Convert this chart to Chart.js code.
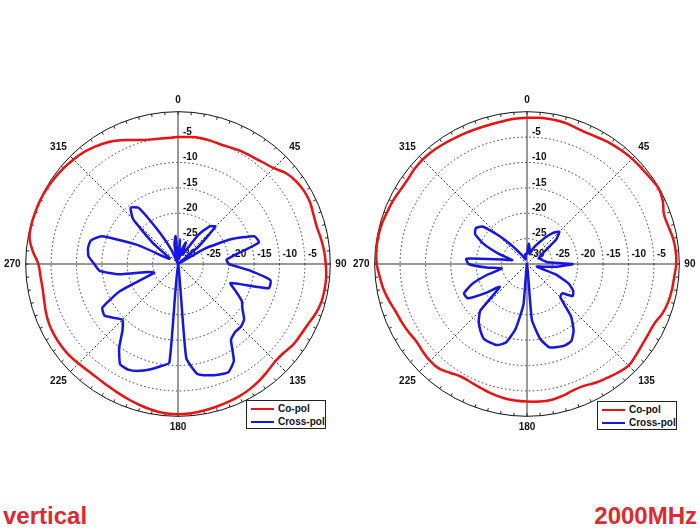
<!DOCTYPE html>
<html>
<head>
<meta charset="utf-8">
<script src="https://cdn.jsdelivr.net/npm/chart.js@4.4.1/dist/chart.umd.min.js"></script>
<style>
    body { margin: 0; background: #fff; font-family: "Liberation Sans", Arial, sans-serif; }
    .page { position: relative; width: 700px; height: 530px; overflow: hidden; }
    .plot { position: absolute; top: 90px; width: 348px; height: 348px; }
    .legend { position: absolute; width: 78px; height: 27px; border: 1px solid #222; background: #fff;
              font-weight: bold; font-size: 10px; color: #111; }
    .legend div { height: 11px; line-height: 11px; margin-top: 2px; white-space: nowrap; }
    .legend span.line { display: inline-block; width: 23px; height: 2px; margin: 0 4px 0 4px; vertical-align: middle; }
    .caption { position: absolute; top: 502px; font-weight: bold; font-size: 24px; color: #de2a2f; }
</style>
</head>
<body>
<div class="page">
    <div class="plot" style="left:2px"><canvas id="leftChart" width="348" height="348"></canvas></div>
    <div class="plot" style="left:351px"><canvas id="rightChart" width="348" height="348"></canvas></div>
    <div class="legend" id="leftLegend" style="left:246px; top:400px"></div>
    <div class="legend" id="rightLegend" style="left:597px; top:401px"></div>
    <div class="caption" style="left:3px">vertical</div>
    <div class="caption" style="right:3px">2000MHz</div>
</div>
<script>
// angles in degrees, 0 at top, clockwise
const degrees = ['0','5','10','15','20','25','30','35','40','45','50','55','60','65','70','75','80','85',
    '90','95','100','105','110','115','120','125','130','135','140','145','150','155','160','165','170','175',
    '180','185','190','195','200','205','210','215','220','225','230','235','240','245','250','255','260','265',
    '270','275','280','285','290','295','300','305','310','315','320','325','330','335','340','345','350','355'];
const ringLabels = [-30, -25, -20, -15, -10, -5];

// left plot (dB)
const leftCoPol = [-5.0,-4.9,-4.8,-4.9,-5.0,-4.8,-4.5,-4.3,-3.9,-3.3,-2.2,-1.6,-1.3,-1.3,-1.6,-1.7,-1.4,-1.1,
    -0.9,-0.7,-0.7,-0.8,-1.2,-1.8,-2.1,-2.3,-2.8,-2.9,-2.5,-2.0,-1.6,-1.3,-1.1,-0.9,-0.7,-0.5,
    -0.4,-0.5,-0.8,-1.2,-1.6,-2.0,-2.3,-2.5,-2.5,-2.3,-2.0,-1.9,-1.9,-2.0,-2.3,-2.7,-2.9,-2.8,
    -2.5,-1.3,-0.3,-0.1,-0.1,-0.1,-0.2,-0.4,-0.6,-0.9,-1.2,-1.7,-2.3,-3.1,-4.0,-4.7,-5.0,-5.1];
const leftCrossPol = [-29,-25.2,-29,-27,-25.5,-28,-27,-23,-20.3,-19.6,-25,-30,-24,-18.5,-14,-13.5,-18,-20.4,
    -20,-16,-11.5,-11.5,-19,-17.5,-15.5,-14.5,-13,-12.5,-12.5,-11.8,-8,-6.5,-6.8,-7.3,-8,-11.4,
    -30,-10.5,-9.5,-8.5,-7.6,-7,-7.2,-9.8,-13,-14.5,-13.5,-12.3,-12.8,-17.4,-25,-24,-18.3,-14.5,
    -13.5,-12.3,-12,-12.2,-14,-21,-28,-28,-23.5,-17.5,-15.5,-16.5,-23,-27,-30,-29,-26,-24.5];

// right plot (dB)
const rightCoPol = [-1.2,-1.1,-1.1,-1.2,-1.5,-1.6,-1.4,-1.1,-0.9,-0.7,-0.6,-0.4,-0.1,-0.5,-1.3,-1.2,-0.8,-0.6,
    -0.6,-0.9,-1.0,-1.2,-1.6,-2.3,-2.4,-2.3,-2.0,-1.7,-2.1,-2.6,-3.0,-3.5,-3.5,-3.1,-2.8,-2.8,
    -2.9,-3.0,-3.2,-3.5,-3.9,-4.2,-4.3,-3.8,-3.1,-3.0,-3.2,-3.4,-3.1,-2.8,-2.5,-1.9,-1.3,-0.9,
    -0.4,-0.2,-0.2,-0.3,-0.6,-0.8,-1.1,-1.2,-1.0,-0.9,-1.0,-1.2,-1.4,-1.5,-1.6,-1.6,-1.5,-1.3];
const rightCrossPol = [-28,-26,-27,-28,-27,-26,-25,-23.5,-22,-21,-22.5,-26,-27,-27.5,-27,-27,-26.5,-26,
    -21,-24,-27,-28,-24,-21,-19.5,-19,-21,-20.7,-16.5,-14,-12.5,-12.3,-12.6,-13,-15,-19,
    -30,-22,-17,-14,-13,-12.9,-13,-14,-15.2,-17,-23,-20,-16.5,-16.3,-18.5,-22,-25,-22,
    -18.5,-18,-25,-27,-24,-20.5,-18.2,-17.7,-18.5,-22,-25,-27,-28,-28.5,-29,-29,-28,-28];

const tickFont = 'bold 10px "Liberation Sans", Arial, sans-serif';

// ring values + 5 degree marks on the outer circle
const polarExtras = {
    id: 'polarExtras',
    beforeDatasetsDraw(chart) {
        const r = chart.scales.r;
        const ctx = chart.ctx;
        ctx.save();
        ctx.strokeStyle = '#222';
        ctx.lineWidth = 1;
        for (let i = 0; i < chart.data.labels.length; i++) {
            const a = r.getPointPosition(i, r.drawingArea);
            const b = r.getPointPosition(i, r.drawingArea - 3);
            ctx.beginPath();
            ctx.moveTo(a.x, a.y);
            ctx.lineTo(b.x, b.y);
            ctx.stroke();
        }
        ctx.font = tickFont;
        ctx.fillStyle = '#111';
        ctx.textAlign = 'left';
        ctx.textBaseline = 'middle';
        ringLabels.forEach(v => {
            const d = r.getDistanceFromCenterForValue(v);
            if (v > -30) ctx.fillText(String(v), r.xCenter + 5, r.yCenter - d - 5);
            ctx.fillText(String(v), r.xCenter + d + 3, r.yCenter - 10);
        });
        ctx.restore();
    }
};

function makePolar(id, coPol, crossPol) {
    const ctx = document.getElementById(id).getContext('2d');
    return new Chart(ctx, {
        type: 'radar',
        data: {
            labels: degrees,
            datasets: [{
                label: 'Co-pol',
                data: coPol,
                borderColor: '#ee1111',
                borderWidth: 2.5,
                fill: false,
                tension: 0.4,
                pointRadius: 0
            }, {
                label: 'Cross-pol',
                data: crossPol,
                borderColor: '#1515e6',
                borderWidth: 2.5,
                fill: false,
                tension: 0.15,
                pointRadius: 0
            }]
        },
        options: {
            responsive: false,
            animation: false,
            plugins: {
                legend: { display: false },
                tooltip: { enabled: false }
            },
            scales: {
                r: {
                    min: -30,
                    max: 0,
                    startAngle: 0,
                    ticks: { stepSize: 5, display: false },
                    grid: {
                        circular: true,
                        color: c => c.index === 6 ? '#111' : '#333',
                        lineWidth: 1,
                        borderDash: c => c.index === 6 ? [] : [1.5, 2.5]
                    },
                    border: {
                        dash: c => c.index === 6 ? [] : [1.5, 2.5]
                    },
                    angleLines: {
                        color: c => c.index % 9 === 0 ? '#333' : 'rgba(0,0,0,0)',
                        lineWidth: c => c.index % 9 === 0 ? 1 : 0,
                        borderDash: c => c.index % 18 === 0 ? [] : [2, 2]
                    },
                    pointLabels: {
                        padding: 5,
                        color: '#111',
                        font: { family: '"Liberation Sans", Arial, sans-serif', size: 10, weight: 'bold' },
                        callback: (label, i) => i % 9 === 0 ? label : ''
                    }
                }
            }
        },
        plugins: [polarExtras]
    });
}

function buildLegend(chart, boxId) {
    const box = document.getElementById(boxId);
    chart.data.datasets.forEach(ds => {
        const row = document.createElement('div');
        row.innerHTML = '<span class="line" style="background:' + ds.borderColor + '"></span>' + ds.label;
        box.appendChild(row);
    });
}

document.addEventListener('DOMContentLoaded', function() {
    const left = makePolar('leftChart', leftCoPol, leftCrossPol);
    const right = makePolar('rightChart', rightCoPol, rightCrossPol);
    buildLegend(left, 'leftLegend');
    buildLegend(right, 'rightLegend');
});
</script>
</body>
</html>
